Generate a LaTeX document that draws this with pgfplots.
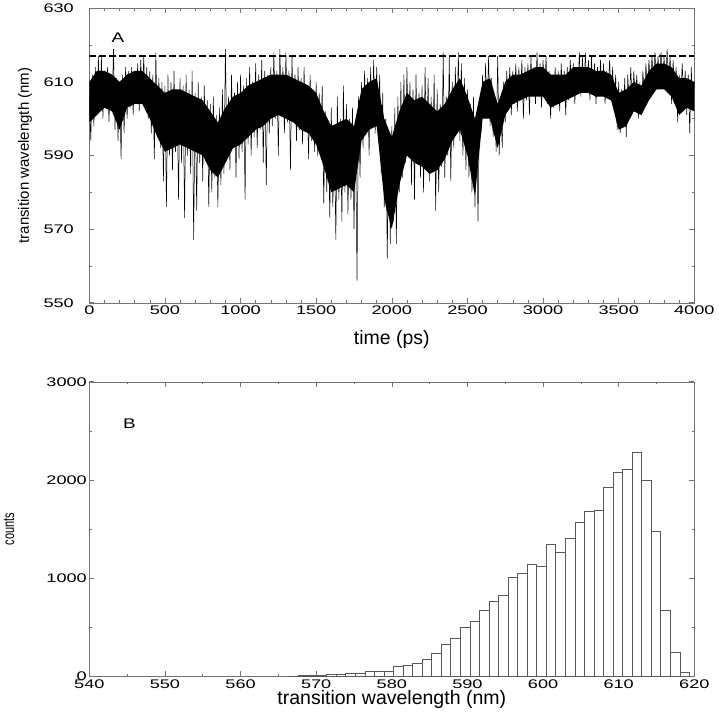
\documentclass[border=0pt]{standalone}
\usepackage{fontspec}
\setmainfont{Liberation Sans}
\usepackage{graphicx}
\usepackage{pgfplots}
\pgfplotsset{compat=1.18}

% wide sans digits, as in the original figure
\newcommand{\wide}[1]{\scalebox{1.45}[1]{#1}}

\pgfplotsset{
  panel/.style={
    scale only axis, width=605pt,
    axis line style={black!55}, tick style={black!55, line width=0.5pt},
    tick align=inside, major tick length=5pt, minor tick length=2.5pt,
    /pgf/number format/assume math mode=true,
    /pgf/number format/1000 sep={}, scaled ticks=false,
    tick label style={font=\fontsize{12.5}{13}\selectfont},
    xticklabel={\wide{\pgfmathprintnumber{\tick}}},
    yticklabel={\wide{\pgfmathprintnumber{\tick}}},
  }
}

\begin{document}
\begin{tikzpicture}
\useasboundingbox (0,0) rectangle (718pt,-720pt);

% panel A: time series
\begin{axis}[panel, at={(89.3pt,-302.7pt)}, anchor=south west, height=294.4pt,
    xmin=0, xmax=4000, ymin=550, ymax=630,
    xtick distance=500, minor x tick num=4,
    ytick={550,570,590,610,630}, minor y tick num=1,
    yticklabel style={xshift=-12pt},
    xlabel={time (ps)}, ylabel={transition wavelength (nm)},
    xlabel style={font=\fontsize{19.5}{20}\selectfont, at={(axis description cs:0.5,0)}, anchor=north, inner sep=0pt, yshift=-27.3pt},
    ylabel style={font=\fontsize{15}{16}\selectfont, at={(axis description cs:-0.1063,0.5)}, anchor=center, inner sep=0pt},
  ]
  % dense core of the trajectory (upper edge, then lower edge backwards)
  \addplot[fill=black, draw=none] coordinates {
    (0,610) (50,613) (100,613) (150,612) (200,610) (250,612) (300,613) (350,613) (400,611) (450,609)
    (500,607) (550,608) (600,608) (650,607) (700,606) (750,605) (800,602) (850,599) (900,603) (950,606)
    (1000,607) (1050,609) (1100,610) (1150,611) (1200,612) (1250,612) (1300,612) (1350,611) (1400,610) (1450,609)
    (1500,607) (1550,602) (1600,598) (1650,599) (1700,600) (1750,598) (1800,608) (1850,610) (1900,611) (1950,600)
    (2000,595) (2050,602) (2100,607) (2150,605) (2200,606) (2250,604) (2300,602) (2350,604) (2400,608) (2450,611)
    (2500,606) (2550,600) (2600,610) (2650,611) (2700,604) (2750,610) (2800,612) (2850,612) (2900,613) (2950,614)
    (3000,614) (3050,612) (3100,612) (3150,612) (3200,614) (3250,614) (3300,614) (3350,613) (3400,613) (3450,612)
    (3500,607) (3550,608) (3600,610) (3650,609) (3700,613) (3750,615) (3800,615) (3850,614) (3900,611) (3950,611)
    (4000,610)
    (4000,602) (3950,603) (3900,601) (3850,606) (3800,608) (3750,608) (3700,605) (3650,601) (3600,602) (3550,598)
    (3500,597) (3450,605) (3400,606) (3350,606) (3300,607) (3250,607) (3200,606) (3150,605) (3100,604) (3050,603)
    (3000,606) (2950,606) (2900,606) (2850,605) (2800,604) (2750,601) (2700,592) (2650,600) (2600,600) (2550,579)
    (2500,590) (2450,597) (2400,594) (2350,589) (2300,586) (2250,585) (2200,587) (2150,588) (2100,590) (2050,582)
    (2000,570) (1950,578) (1900,598) (1850,597) (1800,594) (1750,580) (1700,582) (1650,581) (1600,580) (1550,587)
    (1500,593) (1450,596) (1400,597) (1350,599) (1300,600) (1250,601) (1200,600) (1150,598) (1100,597) (1050,595)
    (1000,593) (950,592) (900,588) (850,584) (800,586) (750,590) (700,591) (650,592) (600,593) (550,592)
    (500,591) (450,595) (400,600) (350,604) (300,604) (250,603) (200,597) (150,602) (100,603) (50,601)
    (0,599)
  };
  % fluctuations
  \addplot[black, line width=0.5pt] coordinates {
    (0,606) (10,594) (20,612) (30,598) (40,614) (50,601) (60,617) (70,603) (80,617) (90,600)
    (100,613) (110,603) (120,614) (130,599) (140,612) (150,602) (160,619) (170,597) (180,611) (190,594)
    (200,610) (210,589) (220,612) (230,596) (240,614) (250,600) (260,613) (270,603) (280,614) (290,601)
    (300,613) (310,604) (320,615) (330,602) (340,616) (350,605) (360,617) (370,603) (380,614) (390,600)
    (400,613) (410,596) (420,612) (430,589) (440,618) (450,595) (460,611) (470,592) (480,610) (490,583)
    (500,609) (510,576) (520,612) (530,590) (540,610) (550,586) (560,613) (570,591) (580,608) (590,578)
    (600,611) (610,588) (620,609) (630,573) (640,612) (650,590) (660,608) (670,585) (680,613) (690,567)
    (700,607) (710,575) (720,610) (730,588) (740,606) (750,583) (760,609) (770,591) (780,605) (790,576)
    (800,604) (810,580) (820,606) (830,584) (840,601) (850,576) (860,603) (870,582) (880,608) (890,585)
    (900,619) (910,590) (920,606) (930,586) (940,612) (950,592) (960,607) (970,584) (980,610) (990,589)
    (1000,612) (1010,591) (1020,609) (1030,578) (1040,611) (1050,593) (1060,614) (1070,590) (1080,610) (1090,595)
    (1100,615) (1110,592) (1120,612) (1130,597) (1140,616) (1150,588) (1160,613) (1170,582) (1180,612) (1190,596)
    (1200,614) (1210,598) (1220,618) (1230,600) (1240,613) (1250,590) (1260,619) (1270,601) (1280,614) (1290,596)
    (1300,618) (1310,599) (1320,613) (1330,586) (1340,617) (1350,600) (1360,612) (1370,594) (1380,614) (1390,597)
    (1400,611) (1410,593) (1420,614) (1430,597) (1440,609) (1450,589) (1460,612) (1470,594) (1480,608) (1490,591)
    (1500,610) (1510,590) (1520,607) (1530,592) (1540,609) (1550,577) (1560,602) (1570,580) (1580,598) (1590,573)
    (1600,603) (1610,576) (1620,598) (1630,567) (1640,606) (1650,578) (1660,600) (1670,572) (1680,609) (1690,580)
    (1700,604) (1710,574) (1720,600) (1730,578) (1740,603) (1750,570) (1760,598) (1770,556) (1780,606) (1790,584)
    (1800,610) (1810,592) (1820,613) (1830,596) (1840,611) (1850,590) (1860,614) (1870,598) (1880,616) (1890,596)
    (1900,614) (1910,598) (1920,612) (1930,585) (1940,607) (1950,576) (1960,600) (1970,562) (1980,596) (1990,566)
    (2000,598) (2010,572) (2020,603) (2030,566) (2040,606) (2050,580) (2060,610) (2070,584) (2080,612) (2090,588)
    (2100,614) (2110,592) (2120,610) (2130,582) (2140,608) (2150,578) (2160,612) (2170,589) (2180,607) (2190,584)
    (2200,609) (2210,580) (2220,614) (2230,590) (2240,611) (2250,583) (2260,606) (2270,587) (2280,612) (2290,575)
    (2300,608) (2310,580) (2320,604) (2330,587) (2340,618) (2350,584) (2360,606) (2370,590) (2380,617) (2390,583)
    (2400,610) (2410,592) (2420,614) (2430,596) (2440,618) (2450,594) (2460,615) (2470,590) (2480,611) (2490,586)
    (2500,608) (2510,584) (2520,604) (2530,580) (2540,606) (2550,576) (2560,600) (2570,572) (2580,604) (2590,596)
    (2600,612) (2610,600) (2620,615) (2630,602) (2640,617) (2650,598) (2660,611) (2670,595) (2680,606) (2690,591)
    (2700,617) (2710,590) (2720,604) (2730,592) (2740,610) (2750,599) (2760,613) (2770,603) (2780,614) (2790,601)
    (2800,613) (2810,604) (2820,615) (2830,602) (2840,614) (2850,605) (2860,616) (2870,600) (2880,614) (2890,605)
    (2900,615) (2910,601) (2920,617) (2930,606) (2940,614) (2950,604) (2960,618) (2970,607) (2980,615) (2990,603)
    (3000,616) (3010,606) (3020,617) (3030,604) (3040,613) (3050,600) (3060,612) (3070,603) (3080,614) (3090,605)
    (3100,613) (3110,602) (3120,615) (3130,606) (3140,613) (3150,601) (3160,614) (3170,605) (3180,616) (3190,606)
    (3200,615) (3210,604) (3220,614) (3230,607) (3240,618) (3250,606) (3260,617) (3270,608) (3280,618) (3290,607)
    (3300,616) (3310,605) (3320,617) (3330,607) (3340,615) (3350,604) (3360,614) (3370,607) (3380,616) (3390,606)
    (3400,615) (3410,604) (3420,613) (3430,607) (3440,616) (3450,605) (3460,614) (3470,603) (3480,612) (3490,597)
    (3500,610) (3510,596) (3520,608) (3530,599) (3540,611) (3550,595) (3560,612) (3570,604) (3580,614) (3590,603)
    (3600,613) (3610,605) (3620,612) (3630,600) (3640,610) (3650,601) (3660,613) (3670,606) (3680,615) (3690,607)
    (3700,616) (3710,609) (3720,617) (3730,610) (3740,618) (3750,608) (3760,617) (3770,611) (3780,618) (3790,609)
    (3800,617) (3810,608) (3820,619) (3830,610) (3840,617) (3850,604) (3860,616) (3870,607) (3880,614) (3890,599)
    (3900,612) (3910,604) (3920,615) (3930,606) (3940,613) (3950,601) (3960,612) (3970,596) (3980,614) (3990,602)
    (4000,610)
  };
  \addplot[black, line width=1.3pt, dash pattern=on 6.5pt off 3.5pt] coordinates {(0,617) (4000,617)};
  \node[font=\fontsize{14}{14}\selectfont] at (axis cs:190,622) {\scalebox{1.35}[1]{A}};
\end{axis}

% panel B: histogram
\begin{axis}[panel, at={(89.3pt,-676pt)}, anchor=south west, height=294.3pt,
    xmin=540, xmax=620, ymin=0, ymax=3000,
    xtick distance=10, minor x tick num=1,
    ytick distance=1000, minor y tick num=1,
    yticklabel style={xshift=1pt},
    xlabel={transition wavelength (nm)}, ylabel={\scalebox{1}[1.45]{counts}},
    xlabel style={font=\fontsize{19.5}{20}\selectfont, at={(axis description cs:0.5,0)}, anchor=north, inner sep=0pt, yshift=-14.5pt},
    ylabel style={font=\fontsize{11}{12}\selectfont, at={(axis description cs:-0.1327,0.5)}, anchor=center, inner sep=0pt},
  ]
  \addplot[ybar interval, draw=black!65, fill=white, line width=0.5pt] coordinates {
    (566.34,2) (567.60,3) (568.86,4) (570.12,7) (571.38,14) (572.65,17) (573.91,27) (575.17,27)
    (576.43,48) (577.69,51) (578.96,51) (580.22,99) (581.48,112) (582.74,129) (584.00,170)
    (585.27,231) (586.53,320) (587.79,384) (589.05,495) (590.31,561) (591.58,669) (592.84,761)
    (594.10,822) (595.36,1006) (596.62,1050) (597.89,1138) (599.15,1121) (600.41,1346) (601.67,1261)
    (602.93,1403) (604.20,1566) (605.46,1679) (606.72,1689) (607.98,1927) (609.24,2076) (610.51,2110)
    (611.77,2283) (613.03,1991) (614.29,1471) (615.55,673) (616.82,241) (618.08,34) (619.34,34)
  };
  \node[font=\fontsize{14}{14}\selectfont] at (axis cs:545.3,2570) {\scalebox{1.35}[1]{B}};
\end{axis}
\end{tikzpicture}
\end{document}
